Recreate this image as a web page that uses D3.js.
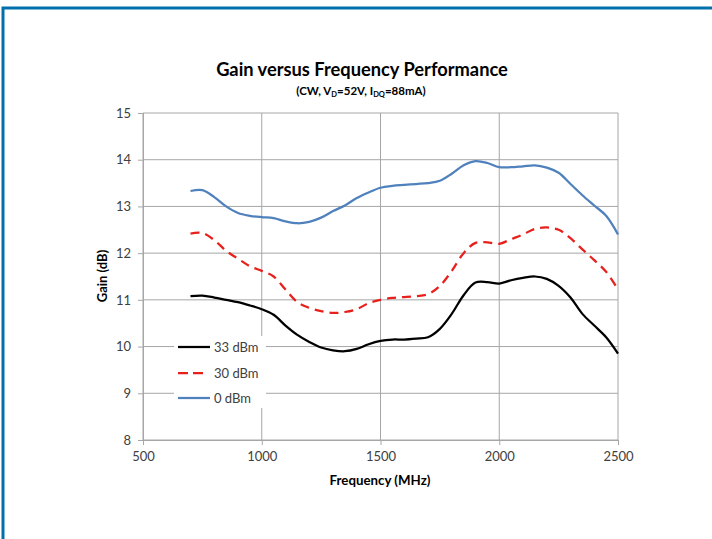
<!DOCTYPE html>
<html><head><meta charset="utf-8">
<script src="https://cdn.jsdelivr.net/npm/d3@7"></script>
<style>body{margin:0;background:#fff}svg{display:block}text{font-family:Lato,"Open Sans",sans-serif}</style>
</head><body><svg id="c" width="712" height="539"></svg>
<script>
const freqs = [700,750,800,850,900,950,1000,1050,1100,1150,1200,1250,1300,1350,1400,1450,1500,1550,1600,1650,1700,1750,1800,1850,1900,1950,2000,2050,2100,2150,2200,2250,2300,2350,2400,2450,2500];
const gain33 = [11.08,11.09,11.05,11.0,10.95,10.88,10.8,10.68,10.45,10.25,10.1,9.98,9.92,9.9,9.95,10.05,10.12,10.15,10.15,10.17,10.2,10.38,10.7,11.1,11.37,11.38,11.35,11.42,11.47,11.5,11.45,11.3,11.05,10.7,10.45,10.2,9.85];
const gain30 = [12.42,12.43,12.28,12.05,11.88,11.72,11.62,11.5,11.22,10.95,10.83,10.76,10.72,10.74,10.8,10.93,11.0,11.04,11.06,11.08,11.12,11.3,11.62,12.0,12.22,12.23,12.2,12.3,12.4,12.52,12.55,12.5,12.32,12.08,11.85,11.6,11.22];
const gain0 = [13.33,13.35,13.2,13.0,12.86,12.8,12.77,12.75,12.68,12.64,12.67,12.76,12.9,13.02,13.18,13.3,13.4,13.44,13.46,13.48,13.5,13.55,13.7,13.88,13.97,13.93,13.84,13.84,13.86,13.88,13.83,13.72,13.48,13.24,13.02,12.8,12.4];
const seriesNames = ["33 dBm","30 dBm","0 dBm"];
const xTicks = [500,1000,1500,2000,2500];
const yTicks = [8,9,10,11,12,13,14,15];

const svg = d3.select("#c");
svg.append("rect").attr("x",3).attr("y",8).attr("width",720).attr("height",540).attr("fill","none").attr("stroke","#0070AC").attr("stroke-width",3);

const L=143,R=618,T=113,B=440;
const x = d3.scaleLinear().domain([500,2500]).range([L,R]);
const y = d3.scaleLinear().domain([8,15]).range([B,T]);

const g = svg.append("g");
g.selectAll(".hg").data(yTicks).join("line").attr("x1",L).attr("x2",R).attr("y1",d=>y(d)).attr("y2",d=>y(d)).attr("stroke","#A6A6A6").attr("stroke-width",1);
g.selectAll(".vg").data(xTicks).join("line").attr("y1",T).attr("y2",B).attr("x1",d=>x(d)).attr("x2",d=>x(d)).attr("stroke","#A6A6A6").attr("stroke-width",1);

const xa = svg.append("g").attr("transform",`translate(0,${B})`).call(d3.axisBottom(x).tickValues(xTicks).tickSize(5).tickPadding(7).tickFormat(d3.format("d")));
const ya = svg.append("g").attr("transform",`translate(${L},0)`).call(d3.axisLeft(y).tickValues(yTicks).tickSize(5).tickPadding(7).tickFormat(d3.format("d")));
[xa,ya].forEach(a=>{a.selectAll("path,line").attr("stroke","#A6A6A6");a.selectAll("text").attr("fill","#404040").style("font-size","13px").style("font-family","Lato,'Open Sans',sans-serif");});

const legY=[347,373,398];
svg.append("rect").attr("x",174).attr("y",336).attr("width",92).attr("height",72).attr("fill","#fff");

const line = arr => d3.line().x((d,i)=>x(freqs[i])).y(d=>y(d)).curve(d3.curveCatmullRom.alpha(0.5))(arr);
const styles = [
  {data:gain33,color:"#000000",dash:null},
  {data:gain30,color:"#E8201C",dash:"9,6"},
  {data:gain0,color:"#4F81BD",dash:null}
];
styles.forEach((s,i)=>{
  svg.append("path").attr("d",line(s.data)).attr("fill","none").attr("stroke",s.color).attr("stroke-width",2.25).attr("stroke-dasharray",s.dash);
  svg.append("line").attr("x1",178).attr("x2",i==1?203:210).attr("y1",legY[i]).attr("y2",legY[i]).attr("stroke",s.color).attr("stroke-width",2.25).attr("stroke-dasharray",i==1?"10,5":null);
  svg.append("text").attr("x",214).attr("y",legY[i]+5).text(seriesNames[i]).attr("fill","#404040").style("font-size","13px");
});

svg.append("text").attr("x",362).attr("y",76).attr("text-anchor","middle").style("font-size","18.3px").style("font-weight","bold").attr("fill","#000").text("Gain versus Frequency Performance");
const st = svg.append("text").attr("x",361).attr("y",95).attr("text-anchor","middle").style("font-size","11.5px").style("font-weight","bold").attr("fill","#000");
st.append("tspan").text("(CW, V");
st.append("tspan").attr("dy",2).style("font-size","7.5px").text("D");
st.append("tspan").attr("dy",-2).text("=52V, I");
st.append("tspan").attr("dy",2).style("font-size","7.5px").text("DQ");
st.append("tspan").attr("dy",-2).text("=88mA)");

svg.append("text").attr("x",380).attr("y",485).attr("text-anchor","middle").style("font-size","13.3px").style("font-weight","bold").text("Frequency (MHz)");
svg.append("text").attr("transform","translate(107,276) rotate(-90)").attr("text-anchor","middle").style("font-size","13px").style("font-weight","bold").text("Gain (dB)");
</script></body></html>
